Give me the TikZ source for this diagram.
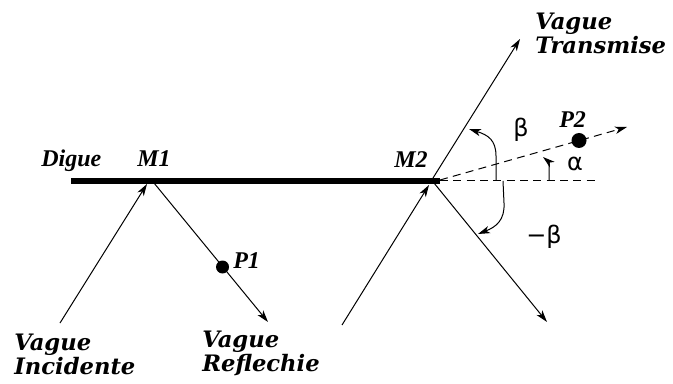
\documentclass[tikz,border=0pt]{standalone}
\usepackage{fontspec}
\newfontfamily\wavefont{DejaVu Serif}
\newfontfamily\timesfont{Liberation Serif}
\newfontfamily\greekfont{DejaVu Sans}
\usetikzlibrary{arrows.meta}
\begin{document}
\begin{tikzpicture}[x=0.75pt,y=-0.75pt,
  ray/.style={line width=0.75pt},
  tip/.style={-{Stealth[length=9pt,width=5.5pt,inset=2.5pt]}},
  dashline/.style={line width=0.75pt, dash pattern=on 6pt off 4pt},
  ptlabel/.style={font=\timesfont\bfseries\itshape\fontsize{18}{21}\selectfont, inner sep=0pt, anchor=base west},
  wavelabel/.style={font=\wavefont\bfseries\itshape\fontsize{17}{15.75}\selectfont, align=left, inner sep=0pt, anchor=north west},
  greek/.style={font=\greekfont\fontsize{18}{21}\selectfont, inner sep=0pt},
  dot/.style={circle, fill=black, draw=none, inner sep=0pt}]
\useasboundingbox (0,0) rectangle (673,384);
% points
\coordinate (I1) at (60,323);
\coordinate (M1) at (147,184);
\coordinate (M1r) at (154,183);
\coordinate (R1) at (268,322);
\coordinate (I2) at (342,325);
\coordinate (M2) at (429,185);
\coordinate (M2t) at (433,178);
\coordinate (T2) at (520,39);
\coordinate (M2r) at (434,183);
\coordinate (R2) at (547,322);
\coordinate (barL) at (71,181);
\coordinate (barR) at (440,181);
\coordinate (hEnd) at (598,181);
\coordinate (dEnd) at (627,127);
% digue
\draw[line width=4.9pt] (barL) -- (barR);
% rays
\draw[ray,tip] (I1) -- (M1);
\draw[ray,tip] (M1r) -- (R1);
\draw[ray,tip] (I2) -- (M2);
\draw[ray,tip] (M2t) -- (T2);
\draw[ray,tip] (M2r) -- (R2);
% dashed lines
\draw[dashline] (barR) -- (hEnd);
\draw[dashline,tip] (440,180) -- (dEnd);
% dots
\node[dot, minimum size=9.75pt] (P1) at (222.5,267) {};
\node[dot, minimum size=11.25pt] (P2) at (579,140.5) {};
% angle arrows
\draw[ray,tip] (496,181) -- (496,156) .. controls (496,140) and (488,135) .. (469,129);
\draw[ray,tip] (549,181) -- (549,166) .. controls (549,162) .. (543,157);
\draw[ray,tip] (503,181) -- (504,203) .. controls (505,220) and (496,227) .. (478,234);
% labels
\node[ptlabel] (digue) at (41,167) {Digue};
\node[ptlabel] (m1) at (137,167) {M1};
\node[ptlabel] (m2) at (394,168) {M2};
\node[ptlabel] (p1l) at (233,268) {P1};
\node[ptlabel] (p2l) at (559,128) {P2};
\node[greek] (beta) at (521,130) {β};
\node[greek] (alpha) at (575,164) {α};
\node[greek] (mbeta) at (544,237) {−β};
\node[wavelabel] (vinc) at (14,334) {Vague\\Incidente};
\node[wavelabel] (vref) at (202,331) {Vague\\Reflechie};
\node[wavelabel] (vtra) at (535,13) {Vague\\Transmise};
\end{tikzpicture}
\end{document}
